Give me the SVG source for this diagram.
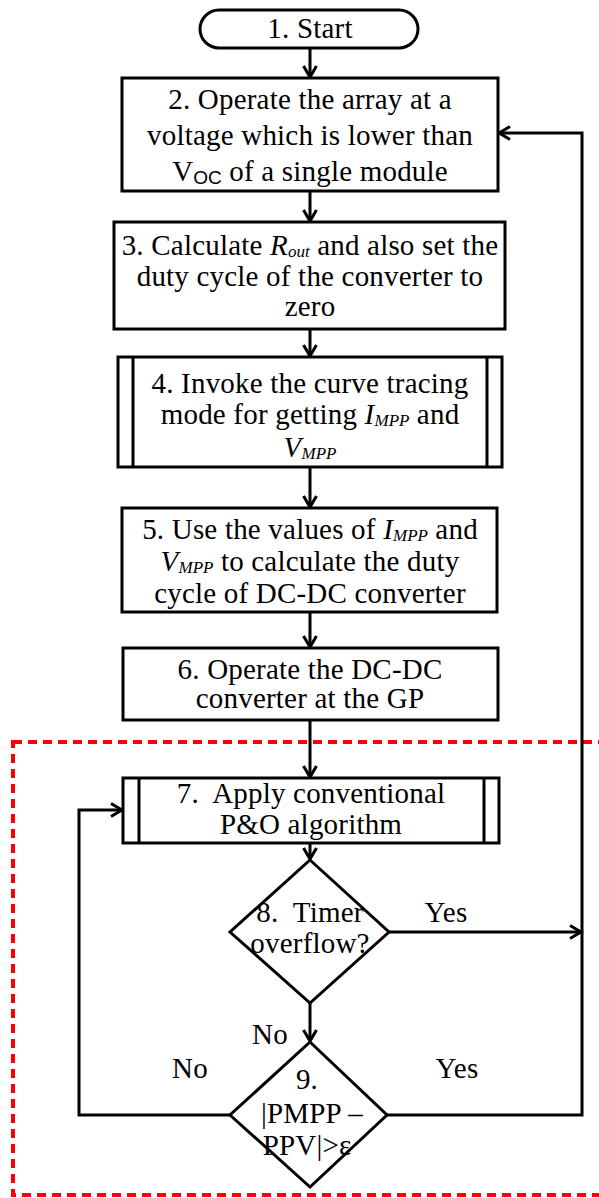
<svg xmlns="http://www.w3.org/2000/svg" width="599" height="1198" viewBox="0 0 599 1198">
<style>
.n{fill:#fff;stroke:#000;stroke-width:3}
.t{font-family:"Liberation Serif","Times New Roman",serif;font-size:29px;letter-spacing:0.2px;fill:#000;text-anchor:middle}
.i{font-style:italic}
.s{font-size:17px;letter-spacing:0}
.c{fill:none;stroke:#000;stroke-width:3}
</style>
<defs>
<marker id="ah" markerUnits="userSpaceOnUse" markerWidth="18" markerHeight="18" refX="12" refY="8" orient="auto">
<path d="M1,1.5 L12,8 L1,14.5" fill="none" stroke="#000" stroke-width="3"/>
</marker>
</defs>
<rect x="13" y="742" width="600" height="453" fill="none" stroke="#ff0000" stroke-width="4" stroke-dasharray="9 6"/>
<g id="connectors">
<line class="c" x1="310" y1="48" x2="310" y2="77" marker-end="url(#ah)"/>
<line class="c" x1="310" y1="191" x2="310" y2="221" marker-end="url(#ah)"/>
<line class="c" x1="310" y1="329" x2="310" y2="356" marker-end="url(#ah)"/>
<line class="c" x1="310" y1="467" x2="310" y2="507" marker-end="url(#ah)"/>
<line class="c" x1="310" y1="612" x2="310" y2="647" marker-end="url(#ah)"/>
<line class="c" x1="310" y1="720" x2="310" y2="777" marker-end="url(#ah)"/>
<line class="c" x1="310" y1="843" x2="310" y2="859" marker-end="url(#ah)"/>
<line class="c" x1="310" y1="1003" x2="310" y2="1041" marker-end="url(#ah)"/>
<line class="c" x1="389" y1="932" x2="581" y2="932" marker-end="url(#ah)"/>
<polyline class="c" points="387,1115 582,1115 582,133 499,133" marker-end="url(#ah)"/>
<polyline class="c" points="230,1115 79,1115 79,810 122,810" marker-end="url(#ah)"/>
<text class="t" x="446" y="922">Yes</text>
<text class="t" x="270" y="1044">No</text>
<text class="t" x="190" y="1078">No</text>
<text class="t" x="457" y="1078">Yes</text>
</g>
<g id="n1">
<rect class="n" x="200" y="10" width="218" height="38" rx="19"/>
<text class="t" x="310" y="38">1. Start</text>
</g>
<g id="n2">
<rect class="n" x="122" y="78" width="376" height="113"/>
<text class="t" x="310" y="109">2. Operate the array at a</text>
<text class="t" x="310" y="145">voltage which is lower than</text>
<text class="t" x="310" y="181">V<tspan font-family="Liberation Sans,Arial,sans-serif" font-size="19" letter-spacing="0" dy="3">OC</tspan><tspan dy="-3"> of a single module</tspan></text>
</g>
<g id="n3">
<rect class="n" x="114" y="222" width="391" height="107"/>
<text class="t" x="310" y="255">3. Calculate <tspan class="i">R</tspan><tspan class="i s" dy="2">out</tspan><tspan dy="-2"> and also set the</tspan></text>
<text class="t" x="310" y="286">duty cycle of the converter to</text>
<text class="t" x="310" y="316">zero</text>
</g>
<g id="n4">
<rect class="n" x="118" y="357" width="384" height="110"/>
<line class="c" x1="133" y1="357" x2="133" y2="467"/>
<line class="c" x1="487" y1="357" x2="487" y2="467"/>
<text class="t" x="310" y="393">4. Invoke the curve tracing</text>
<text class="t" x="310" y="424">mode for getting <tspan class="i">I</tspan><tspan class="i s" dy="2">MPP</tspan><tspan dy="-2"> and</tspan></text>
<text class="t" x="310" y="457"><tspan class="i">V</tspan><tspan class="i s" dy="2">MPP</tspan></text>
</g>
<g id="n5">
<rect class="n" x="122" y="508" width="375" height="104"/>
<text class="t" x="310" y="539">5. Use the values of <tspan class="i">I</tspan><tspan class="i s" dy="2">MPP</tspan><tspan dy="-2"> and</tspan></text>
<text class="t" x="310" y="571"><tspan class="i">V</tspan><tspan class="i s" dy="2">MPP</tspan><tspan dy="-2"> to calculate the duty</tspan></text>
<text class="t" x="310" y="603">cycle of DC-DC converter</text>
</g>
<g id="n6">
<rect class="n" x="123" y="648" width="375" height="72"/>
<text class="t" x="310" y="679">6. Operate the DC-DC</text>
<text class="t" x="310" y="708">converter at the GP</text>
</g>
<g id="n7">
<rect class="n" x="123" y="778" width="376" height="65"/>
<line class="c" x1="139" y1="778" x2="139" y2="843"/>
<line class="c" x1="484" y1="778" x2="484" y2="843"/>
<text class="t" x="311" y="803" xml:space="preserve">7.  Apply conventional</text>
<text class="t" x="311" y="834">P&amp;O algorithm</text>
</g>
<g id="n8">
<polygon class="n" points="310,860 389,932 310,1003 230,932"/>
<text class="t" x="310" y="922" xml:space="preserve">8.  Timer</text>
<text class="t" x="310" y="953">overflow?</text>
</g>
<g id="n9">
<polygon class="n" points="310,1042 387,1115 310,1187 230,1115"/>
<text class="t" x="307" y="1089">9.</text>
<text class="t" x="312" y="1123">|PMPP –</text>
<text class="t" x="307" y="1155">PPV|&gt;ε</text>
</g>
</svg>
